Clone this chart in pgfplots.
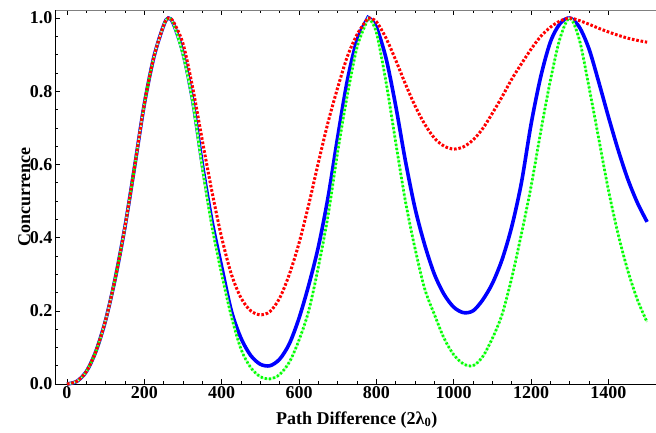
\documentclass[border=0pt]{standalone}
\usepackage{fontspec}
\setmainfont{Liberation Serif}
\usepackage{pgfplots}
\usepackage{pgfplotstable}
\pgfplotsset{compat=1.18}

\pgfplotstableread{
x blue green red
0 0 0 0
25 0.007 0.007 0.007
50 0.034 0.034 0.034
75 0.09 0.09 0.09
100 0.175 0.175 0.175
125 0.29 0.29 0.29
150 0.43 0.43 0.43
175 0.595 0.595 0.595
200 0.765 0.765 0.765
225 0.895 0.895 0.895
250 0.98 0.98 0.98
262 1.0 1.0 1.0
275 0.985 0.985 0.99
300 0.905 0.90 0.93
325 0.775 0.77 0.81
350 0.60 0.59 0.665
375 0.445 0.43 0.525
400 0.32 0.30 0.40
425 0.20 0.185 0.30
450 0.125 0.095 0.235
475 0.078 0.045 0.20
500 0.054 0.02 0.189
525 0.05 0.014 0.198
550 0.068 0.026 0.235
575 0.11 0.06 0.30
600 0.18 0.12 0.385
625 0.27 0.20 0.49
650 0.375 0.32 0.605
675 0.51 0.46 0.715
700 0.675 0.635 0.81
725 0.83 0.79 0.895
750 0.94 0.92 0.955
775 0.995 0.99 0.995
781 1.0 1.0 1.0
800 0.975 0.96 0.99
825 0.89 0.825 0.945
850 0.76 0.66 0.885
875 0.61 0.50 0.82
900 0.48 0.37 0.76
925 0.38 0.26 0.71
950 0.30 0.19 0.672
975 0.245 0.125 0.65
1000 0.21 0.08 0.642
1025 0.195 0.055 0.648
1050 0.20 0.05 0.667
1075 0.23 0.075 0.698
1100 0.275 0.125 0.74
1125 0.34 0.19 0.785
1150 0.43 0.29 0.833
1175 0.55 0.41 0.875
1200 0.71 0.54 0.915
1225 0.84 0.69 0.95
1250 0.935 0.83 0.975
1275 0.985 0.945 0.992
1300 1.0 1.0 1.0
1325 0.975 0.94 0.993
1350 0.915 0.81 0.983
1375 0.825 0.67 0.972
1400 0.73 0.53 0.962
1425 0.64 0.41 0.953
1450 0.56 0.31 0.945
1475 0.495 0.23 0.939
1500 0.443 0.169 0.934
}\conc

\begin{document}
\begin{tikzpicture}
\begin{axis}[
    at={(0,0)}, anchor=south west,
    scale only axis,
    width=601pt, height=374pt,
    xmin=-31, xmax=1523, ymin=0, ymax=1.022,
    axis line style={draw=none},
    xtick={0,200,...,1400},
    ytick={0,0.2,...,1.0},
    minor x tick num=3,
    minor y tick num=3,
    tick align=inside,
    ytick pos=left,
    major tick length=5pt,
    minor tick length=3pt,
    tick style={black, line width=0.6pt},
    /pgf/number format/assume math mode=true,
    /pgf/number format/1000 sep={},
    yticklabel style={/pgf/number format/fixed, /pgf/number format/fixed zerofill, /pgf/number format/precision=1, xshift=1pt},
    ticklabel style={font=\fontsize{18}{20}\selectfont\bfseries},
    xticklabel style={yshift=1pt},
    xlabel={Path Difference (2λ\textsubscript{0})},
    ylabel={Concurrence},
    every axis x label/.style={at={(axis description cs:0.502,-0.096)}, anchor=center, font=\fontsize{18}{20}\selectfont\bfseries},
    every axis y label/.style={at={(axis description cs:-0.051,0.5)}, rotate=90, anchor=center, font=\fontsize{18}{20}\selectfont\bfseries},
    clip=false,
]
\draw[gray, line width=0.8pt] (rel axis cs:0,1) -- (rel axis cs:1,1);
\draw[black, line width=0.8pt] (rel axis cs:0,1) -- (rel axis cs:0,0) -- (rel axis cs:1,0);

% blue solid
\addplot[blue, line width=3.6pt, smooth] table[x=x, y=blue] {\conc};
% green dotted, with a faint trace under it
\addplot[green!25, line width=2.2pt, smooth] table[x=x, y=green] {\conc};
\addplot[green, line width=2.8pt, smooth, dash pattern=on 2pt off 2.2pt] table[x=x, y=green] {\conc};
% red dotted
\addplot[red, line width=3pt, smooth, dash pattern=on 2.6pt off 1.8pt] table[x=x, y=red] {\conc};
\end{axis}
\pgfresetboundingbox
\useasboundingbox (-55pt,-48pt) rectangle (601pt,384pt);
\end{tikzpicture}
\end{document}
